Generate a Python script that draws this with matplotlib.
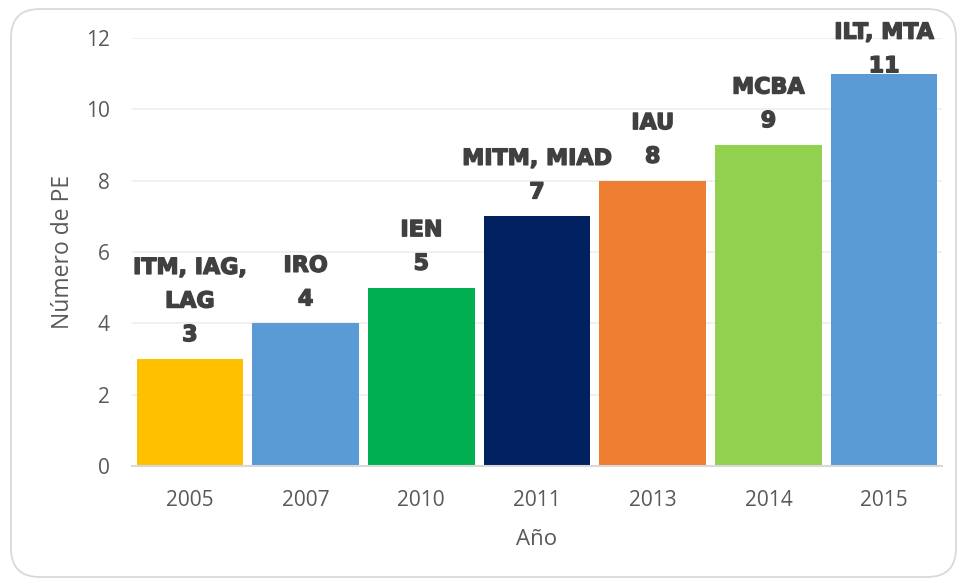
import matplotlib.pyplot as plt
import matplotlib.patheffects as pe
from matplotlib.patches import FancyBboxPatch

# data
years = ['2005', '2007', '2010', '2011', '2013', '2014', '2015']
num_pe = [3, 4, 5, 7, 8, 9, 11]
programs = ['ITM, IAG,\nLAG', 'IRO', 'IEN', 'MITM, MIAD', 'IAU', 'MCBA', 'ILT, MTA']
bar_colors = ['#FFC000', '#5B9BD5', '#00B050', '#002060', '#ED7D31', '#92D050', '#5B9BD5']

fig = plt.figure(figsize=(9.57, 5.8), dpi=100)

# rounded chart border like the excel chart area
border = FancyBboxPatch((11/957, 3/580), 945/957, 568/580,
                        boxstyle='round,pad=0,rounding_size=0.03',
                        transform=fig.transFigure, facecolor='none',
                        edgecolor='#D9D9D9', linewidth=1.3, zorder=-1,
                        mutation_aspect=957/580)
fig.patches.append(border)

ax = fig.add_axes([132/957, 114/580, 810/957, 428/580])
ax.set_facecolor('none')

x = list(range(len(years)))
ax.bar(x, num_pe, width=0.92, color=bar_colors, zorder=3)

ax.set_xlim(-0.5, len(years) - 0.5)
ax.set_ylim(0, 12)
ax.set_yticks(range(0, 13, 2))
ax.set_xticks(x)
ax.set_xticklabels(years)

ax.grid(axis='y', color='#EDEDED', linewidth=1.2, zorder=0)
for s in ['top', 'right', 'left']:
    ax.spines[s].set_visible(False)
ax.spines['bottom'].set_color('#D9D9D9')
ax.spines['bottom'].set_linewidth(1.5)
ax.spines['bottom'].set_zorder(4)

ax.tick_params(axis='both', length=0, labelsize=15, labelcolor='#595959')
ax.tick_params(axis='y', pad=16)
ax.tick_params(axis='x', pad=17)
for lbl in ax.get_xticklabels() + ax.get_yticklabels():
    lbl.set_family('Open Sans')

ax.set_ylabel('Número de PE', fontsize=16.5, color='#595959', family='Open Sans')
ax.yaxis.set_label_coords(-0.07, 0.5)
ax.set_xlabel('Año', fontsize=16, color='#595959', family='Open Sans')
ax.xaxis.set_label_coords(0.5, -0.147)

label_font = dict(family='DejaVu Sans', fontweight='bold',
                  fontsize=16, color='#404040', ha='center', linespacing=1.85,
                  path_effects=[pe.withStroke(linewidth=1.0, foreground='#404040')])
for xi, v, name in zip(x, num_pe, programs):
    txt = f'{name}\n{v}'
    if v > 10:
        # excel pushes the top label back inside the chart
        ax.annotate(txt, xy=(xi, 1), xycoords=('data', 'axes fraction'),
                    xytext=(0, 11), textcoords='offset points', va='top',
                    zorder=5, **label_font)
    else:
        ax.annotate(txt, xy=(xi, v), xytext=(0, 10), textcoords='offset points',
                    va='bottom', zorder=5, **label_font)

fig.savefig('out.png', dpi=100)
